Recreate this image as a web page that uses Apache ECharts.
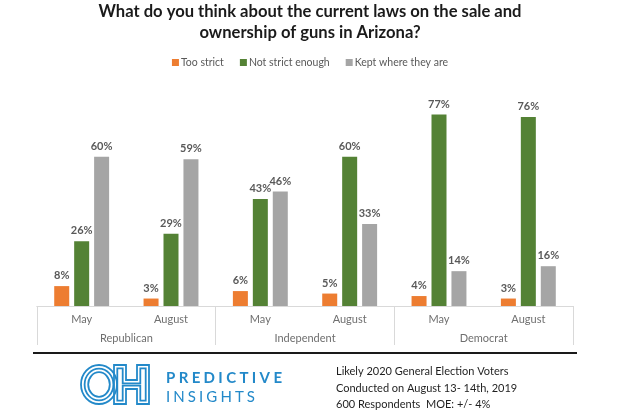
<!DOCTYPE html>
<html>
<head>
<meta charset="utf-8">
<script src="https://cdn.jsdelivr.net/npm/echarts@6/dist/echarts.min.js"></script>
<style>
html,body{margin:0;padding:0;background:#fff;}
#chart{width:620px;height:419px;}
</style>
</head>
<body>
<div id="chart"></div>
<script>
const categories = ['May', 'August', 'May', 'August', 'May', 'August'];
const groups = ['Republican', 'Independent', 'Democrat'];
const seriesNames = ['Too strict', 'Not strict enough', 'Kept where they are'];
const tooStrict = [8, 3, 6, 5, 4, 3];
const notStrictEnough = [26, 29, 43, 60, 77, 76];
const keptWhereTheyAre = [60, 59, 46, 33, 14, 16];
const titleText = 'What do you think about the current laws on the sale and\nownership of guns in Arizona?';
const footerLines = ['Likely 2020 General Election Voters', 'Conducted on August 13- 14th, 2019', '600 Respondents  MOE: +/- 4%'];

const FONT = 'Lato, "Open Sans", sans-serif';
const BLUE = '#2389c9';
const colors = ['#ED7D31', '#548235', '#A5A5A5'];

const chart = echarts.init(document.getElementById('chart'), null, {renderer: 'canvas'});

const ctx = document.createElement('canvas').getContext('2d');
function spacedText(str, x, yMid, fontSize, weight, targetWidth, color) {
  ctx.font = weight + ' ' + fontSize + 'px Lato';
  const widths = str.split('').map(c => ctx.measureText(c).width);
  const natural = widths.reduce((a, b) => a + b, 0);
  const sp = (targetWidth - natural) / (str.length - 1);
  const out = [];
  let cx = x;
  str.split('').forEach((c, i) => {
    out.push({type: 'text', x: cx, y: yMid, style: {text: c, fill: color, font: weight + ' ' + fontSize + 'px Lato', textVerticalAlign: 'middle'}});
    cx += widths[i] + sp;
  });
  return out;
}

function hPoly(x0, y0, x1, y1, s, b0, b1, d) {
  return [
    [x0 + d, y0 + d], [x0 + s - d, y0 + d], [x0 + s - d, b0 + d], [x1 - s + d, b0 + d],
    [x1 - s + d, y0 + d], [x1 - d, y0 + d], [x1 - d, y1 - d], [x1 - s + d, y1 - d],
    [x1 - s + d, b1 - d], [x0 + s - d, b1 - d], [x0 + s - d, y1 - d], [x0 + d, y1 - d]
  ];
}

const graphics = [];
graphics.push({type: 'line', shape: {x1: 33, y1: 353, x2: 577, y2: 353}, style: {stroke: '#1a1a1a', lineWidth: 2}});
[0, 3.6, 7.2].forEach(d => {
  graphics.push({type: 'ellipse', shape: {cx: 99, cy: 384.5, rx: 18 - d, ry: 19.5 - d}, style: {fill: null, stroke: BLUE, lineWidth: 1.8}});
});
[0, 3.3].forEach(d => {
  graphics.push({type: 'polygon', shape: {points: hPoly(114, 365, 149, 404, 12, 380, 389, d)}, style: {fill: null, stroke: BLUE, lineWidth: 1.8}});
});
spacedText('PREDICTIVE', 166, 378.5, 15, 'bold', 116, BLUE).forEach(g => graphics.push(g));
spacedText('INSIGHTS', 166, 397.5, 15, 'normal', 89, BLUE).forEach(g => graphics.push(g));
footerLines.forEach((t, i) => {
  graphics.push({type: 'text', x: 336, y: [371, 388, 404][i], style: {text: t, fill: '#1f1f1f', font: '11px Lato', textVerticalAlign: 'middle'}});
});

const dataSets = [tooStrict, notStrictEnough, keptWhereTheyAre];

chart.setOption({
  animation: false,
  backgroundColor: '#fff',
  title: {
    text: titleText, left: 'center', top: 1, padding: 0,
    textStyle: {fontFamily: FONT, fontSize: 16.6, fontWeight: 'bold', color: '#1a1a1a', lineHeight: 21}
  },
  legend: {
    top: 52, left: 'center', itemWidth: 7, itemHeight: 7, itemGap: 16,
    icon: 'rect',
    textStyle: {fontFamily: FONT, fontSize: 10.5, color: '#595959', padding: [0, 0, 0, -3]},
    data: seriesNames
  },
  grid: {left: 37, right: 47, top: 107, bottom: 113},
  xAxis: [
    {
      type: 'category', data: categories, position: 'bottom',
      axisLine: {show: true, lineStyle: {color: '#d9d9d9'}},
      axisTick: {show: false},
      axisLabel: {margin: 8, fontFamily: FONT, fontSize: 11, color: '#6f6f6f'}
    },
    {
      type: 'category', data: groups, position: 'bottom',
      axisLine: {show: true, lineStyle: {color: '#d9d9d9'}},
      axisTick: {show: true, length: 39, inside: false, interval: 0, lineStyle: {color: '#d9d9d9'}},
      axisLabel: {margin: 27, fontFamily: FONT, fontSize: 11, color: '#6f6f6f'}
    }
  ],
  yAxis: {type: 'value', min: 0, max: 80, show: false, splitLine: {show: false}},
  series: seriesNames.map((name, i) => ({
    name: name, type: 'bar', xAxisIndex: 0,
    data: dataSets[i],
    barWidth: 15, barGap: '33%',
    itemStyle: {color: colors[i]},
    label: {show: true, position: 'top', distance: 5, formatter: '{c}%', fontFamily: FONT, fontWeight: 'bold', fontSize: 11, color: '#595959'}
  })),
  graphic: graphics
});
</script>
</body>
</html>
